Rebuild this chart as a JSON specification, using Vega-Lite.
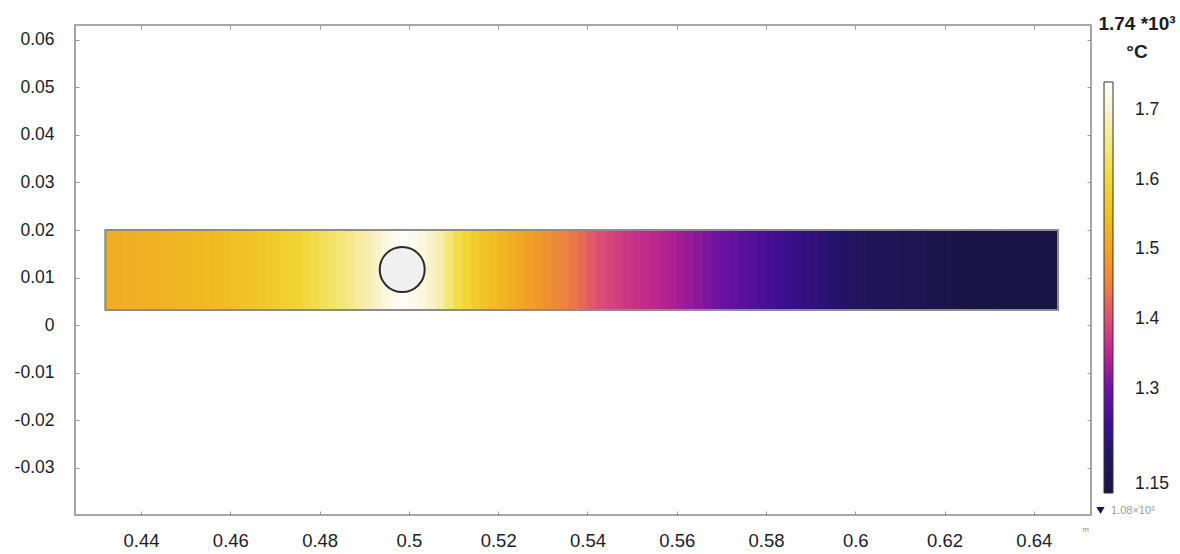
{
  "$schema": "https://vega.github.io/schema/vega-lite/v6.json",
  "width": 1016,
  "height": 490,
  "autosize": {"type": "none"},
  "padding": {"left": 75, "top": 25, "right": 89, "bottom": 39},
  "background": "white",
  "config": {
    "view": {"stroke": "#a6a6a6", "strokeWidth": 2},
    "font": "Liberation Sans",
    "axis": {"grid": false, "domain": false, "tickColor": "#9a9a9a", "tickWidth": 1, "tickSize": -4, "labelFont": "Liberation Sans", "labelColor": "#1c1c28", "title": null}
  },
  "datasets": {
    "field": [
      {"x": 0.432, "x2": 0.434, "t": 1.516}, {"x": 0.434, "x2": 0.436, "t": 1.517}, {"x": 0.436, "x2": 0.438, "t": 1.519}, {"x": 0.438, "x2": 0.44, "t": 1.52},
      {"x": 0.44, "x2": 0.442, "t": 1.521}, {"x": 0.442, "x2": 0.444, "t": 1.523}, {"x": 0.444, "x2": 0.446, "t": 1.526}, {"x": 0.446, "x2": 0.448, "t": 1.528},
      {"x": 0.448, "x2": 0.45, "t": 1.53}, {"x": 0.45, "x2": 0.452, "t": 1.533}, {"x": 0.452, "x2": 0.454, "t": 1.535}, {"x": 0.454, "x2": 0.456, "t": 1.539},
      {"x": 0.456, "x2": 0.458, "t": 1.542}, {"x": 0.458, "x2": 0.46, "t": 1.546}, {"x": 0.46, "x2": 0.462, "t": 1.549}, {"x": 0.462, "x2": 0.464, "t": 1.553},
      {"x": 0.464, "x2": 0.466, "t": 1.556}, {"x": 0.466, "x2": 0.468, "t": 1.562}, {"x": 0.468, "x2": 0.47, "t": 1.569}, {"x": 0.47, "x2": 0.472, "t": 1.576},
      {"x": 0.472, "x2": 0.474, "t": 1.582}, {"x": 0.474, "x2": 0.476, "t": 1.589}, {"x": 0.476, "x2": 0.478, "t": 1.599}, {"x": 0.478, "x2": 0.48, "t": 1.61},
      {"x": 0.48, "x2": 0.482, "t": 1.621}, {"x": 0.482, "x2": 0.484, "t": 1.632}, {"x": 0.484, "x2": 0.486, "t": 1.644}, {"x": 0.486, "x2": 0.488, "t": 1.656},
      {"x": 0.488, "x2": 0.49, "t": 1.668}, {"x": 0.49, "x2": 0.492, "t": 1.68}, {"x": 0.492, "x2": 0.494, "t": 1.697}, {"x": 0.494, "x2": 0.496, "t": 1.715},
      {"x": 0.496, "x2": 0.498, "t": 1.73}, {"x": 0.498, "x2": 0.5, "t": 1.737}, {"x": 0.5, "x2": 0.502, "t": 1.727}, {"x": 0.502, "x2": 0.504, "t": 1.713},
      {"x": 0.504, "x2": 0.506, "t": 1.695}, {"x": 0.506, "x2": 0.508, "t": 1.676}, {"x": 0.508, "x2": 0.51, "t": 1.645}, {"x": 0.51, "x2": 0.512, "t": 1.613},
      {"x": 0.512, "x2": 0.514, "t": 1.592}, {"x": 0.514, "x2": 0.516, "t": 1.572}, {"x": 0.516, "x2": 0.518, "t": 1.556}, {"x": 0.518, "x2": 0.52, "t": 1.543},
      {"x": 0.52, "x2": 0.522, "t": 1.529}, {"x": 0.522, "x2": 0.524, "t": 1.516}, {"x": 0.524, "x2": 0.526, "t": 1.505}, {"x": 0.526, "x2": 0.528, "t": 1.493},
      {"x": 0.528, "x2": 0.53, "t": 1.481}, {"x": 0.53, "x2": 0.532, "t": 1.47}, {"x": 0.532, "x2": 0.534, "t": 1.46}, {"x": 0.534, "x2": 0.536, "t": 1.449},
      {"x": 0.536, "x2": 0.538, "t": 1.437}, {"x": 0.538, "x2": 0.54, "t": 1.424}, {"x": 0.54, "x2": 0.542, "t": 1.41}, {"x": 0.542, "x2": 0.544, "t": 1.398},
      {"x": 0.544, "x2": 0.546, "t": 1.389}, {"x": 0.546, "x2": 0.548, "t": 1.38}, {"x": 0.548, "x2": 0.55, "t": 1.371}, {"x": 0.55, "x2": 0.552, "t": 1.365},
      {"x": 0.552, "x2": 0.554, "t": 1.359}, {"x": 0.554, "x2": 0.556, "t": 1.353}, {"x": 0.556, "x2": 0.558, "t": 1.346}, {"x": 0.558, "x2": 0.56, "t": 1.339},
      {"x": 0.56, "x2": 0.562, "t": 1.332}, {"x": 0.562, "x2": 0.564, "t": 1.325}, {"x": 0.564, "x2": 0.566, "t": 1.317}, {"x": 0.566, "x2": 0.568, "t": 1.309},
      {"x": 0.568, "x2": 0.57, "t": 1.302}, {"x": 0.57, "x2": 0.572, "t": 1.294}, {"x": 0.572, "x2": 0.574, "t": 1.287}, {"x": 0.574, "x2": 0.576, "t": 1.28},
      {"x": 0.576, "x2": 0.578, "t": 1.273}, {"x": 0.578, "x2": 0.58, "t": 1.266}, {"x": 0.58, "x2": 0.582, "t": 1.26}, {"x": 0.582, "x2": 0.584, "t": 1.253},
      {"x": 0.584, "x2": 0.586, "t": 1.247}, {"x": 0.586, "x2": 0.588, "t": 1.241}, {"x": 0.588, "x2": 0.59, "t": 1.235}, {"x": 0.59, "x2": 0.592, "t": 1.227},
      {"x": 0.592, "x2": 0.594, "t": 1.22}, {"x": 0.594, "x2": 0.596, "t": 1.212}, {"x": 0.596, "x2": 0.598, "t": 1.204}, {"x": 0.598, "x2": 0.6, "t": 1.197},
      {"x": 0.6, "x2": 0.602, "t": 1.19}, {"x": 0.602, "x2": 0.604, "t": 1.187}, {"x": 0.604, "x2": 0.606, "t": 1.184}, {"x": 0.606, "x2": 0.608, "t": 1.181},
      {"x": 0.608, "x2": 0.61, "t": 1.178}, {"x": 0.61, "x2": 0.612, "t": 1.175}, {"x": 0.612, "x2": 0.614, "t": 1.172}, {"x": 0.614, "x2": 0.616, "t": 1.169},
      {"x": 0.616, "x2": 0.618, "t": 1.166}, {"x": 0.618, "x2": 0.62, "t": 1.163}, {"x": 0.62, "x2": 0.622, "t": 1.16}, {"x": 0.622, "x2": 0.624, "t": 1.154},
      {"x": 0.624, "x2": 0.626, "t": 1.149}, {"x": 0.626, "x2": 0.628, "t": 1.144}, {"x": 0.628, "x2": 0.63, "t": 1.138}, {"x": 0.63, "x2": 0.632, "t": 1.133},
      {"x": 0.632, "x2": 0.634, "t": 1.126}, {"x": 0.634, "x2": 0.636, "t": 1.119}, {"x": 0.636, "x2": 0.638, "t": 1.111}, {"x": 0.638, "x2": 0.64, "t": 1.103},
      {"x": 0.64, "x2": 0.642, "t": 1.095}, {"x": 0.642, "x2": 0.644, "t": 1.087}, {"x": 0.644, "x2": 0.6454, "t": 1.081}
    ],
    "domain": [{"x": 0.432, "x2": 0.6454, "y": 0.0032, "y2": 0.02}],
    "pipe": [{"x": 0.4985, "y": 0.0117}],
    "minimum": [{"kind": "1.08×10³", "x": 0.6445, "y": 0.0116}]
  },
  "layer": [
    {
      "data": {"name": "field"},
      "mark": {"type": "rect"},
      "encoding": {
        "x": {
          "field": "x", "type": "quantitative",
          "scale": {"domain": [0.4252, 0.6528], "nice": false, "zero": false},
          "axis": {
            "orient": "bottom",
            "values": [0.44, 0.46, 0.48, 0.5, 0.52, 0.54, 0.56, 0.58, 0.6, 0.62, 0.64],
            "labelExpr": "format(datum.value, '.2~f')",
            "labelFontSize": 18.5, "labelPadding": 20,
            "title": "m", "titleFontSize": 8, "titleColor": "#8a8a8a", "titleFontWeight": "normal",
            "titleX": 1010, "titleY": 14, "titleAlign": "center", "titleBaseline": "middle"
          }
        },
        "x2": {"field": "x2"},
        "y": {
          "datum": 0.0032, "type": "quantitative",
          "scale": {"domain": [-0.0399, 0.0631], "nice": false, "zero": false},
          "axis": {
            "orient": "left",
            "values": [-0.03, -0.02, -0.01, 0, 0.01, 0.02, 0.03, 0.04, 0.05, 0.06],
            "labelExpr": "datum.value < 0 ? '-' + format(-datum.value, '.2~f') : format(datum.value, '.2~f')",
            "labelFontSize": 17.5, "labelPadding": 25
          }
        },
        "y2": {"datum": 0.02},
        "color": {
          "field": "t", "type": "quantitative",
          "scale": {
            "domain": [1.15, 1.74], "clamp": true, "interpolate": "rgb",
            "range": ["#1a1446", "#221460", "#3a0f8e", "#6a12a2", "#b82290", "#dc4a78", "#ec8040", "#f0a224", "#f0bd22", "#f1d634", "#f4e674", "#f8f0c4", "#fefefa"]
          },
          "legend": {
            "type": "gradient",
            "orient": "none", "legendX": 1023, "legendY": -10, "direction": "vertical",
            "gradientLength": 411, "gradientThickness": 9,
            "gradientStrokeColor": "#333333", "gradientStrokeWidth": 1,
            "values": [1.15, 1.3, 1.4, 1.5, 1.6, 1.7], "format": ".2~f",
            "labelFontSize": 17.5, "labelColor": "#1c1c28", "labelOffset": 22, "labelFont": "Liberation Sans",
            "title": ["1.74 *10³", "°C"], "titleFont": "Liberation Sans", "titleFontSize": 19, "titleFontWeight": "bold",
            "titleColor": "#1c1c28", "titleAnchor": "middle", "titleAlign": "center", "titleLineHeight": 28, "titlePadding": 20,
            "padding": 0
          }
        }
      }
    },
    {
      "data": {"name": "field"},
      "mark": {"type": "rect", "filled": false, "strokeWidth": 1},
      "encoding": {
        "x": {"field": "x", "type": "quantitative", "axis": null},
        "x2": {"field": "x2"},
        "y": {"datum": 0.0032, "type": "quantitative", "axis": null},
        "y2": {"datum": 0.02},
        "stroke": {
          "field": "t", "type": "quantitative",
          "scale": {
            "domainMin": 1.15, "domainMax": 1.74, "clamp": true, "interpolate": "rgb",
            "range": ["#1a1446", "#221460", "#3a0f8e", "#6a12a2", "#b82290", "#dc4a78", "#ec8040", "#f0a224", "#f0bd22", "#f1d634", "#f4e674", "#f8f0c4", "#fefefa"]
          },
          "legend": null
        }
      }
    },
    {
      "data": {"name": "minimum"},
      "mark": {"type": "point", "filled": true, "color": "#1a1446", "size": 40, "opacity": 1},
      "encoding": {
        "x": {"field": "x", "type": "quantitative", "axis": null},
        "y": {"field": "y", "type": "quantitative", "axis": null},
        "shape": {
          "field": "kind", "type": "nominal",
          "scale": {"range": ["triangle-down"]},
          "legend": {
            "orient": "none", "legendX": 1020, "legendY": 480, "title": null,
            "labelFontSize": 11, "labelColor": "#9a9a9a", "symbolSize": 70, "labelOffset": 5, "padding": 0,
            "symbolFillColor": "#000000", "symbolStrokeColor": "#000000"
          }
        }
      }
    },
    {
      "data": {"name": "pipe"},
      "mark": {"type": "point", "shape": "circle", "filled": true, "fill": "#f0f0f0", "stroke": "#2b2b2b", "strokeWidth": 2, "size": 2025, "opacity": 1},
      "encoding": {
        "x": {"field": "x", "type": "quantitative", "axis": null},
        "y": {"field": "y", "type": "quantitative", "axis": null}
      }
    },
    {
      "data": {"name": "domain"},
      "mark": {"type": "rect", "filled": false, "stroke": "#8c8c8c", "strokeWidth": 2},
      "encoding": {
        "x": {"field": "x", "type": "quantitative", "axis": {"orient": "top", "labels": false, "values": [0.44, 0.46, 0.48, 0.5, 0.52, 0.54, 0.56, 0.58, 0.6, 0.62, 0.64]}},
        "x2": {"field": "x2"},
        "y": {"field": "y", "type": "quantitative", "axis": {"orient": "right", "labels": false, "values": [-0.03, -0.02, -0.01, 0, 0.01, 0.02, 0.03, 0.04, 0.05, 0.06]}},
        "y2": {"field": "y2"}
      }
    }
  ],
  "resolve": {"axis": {"x": "independent", "y": "independent"}}
}
